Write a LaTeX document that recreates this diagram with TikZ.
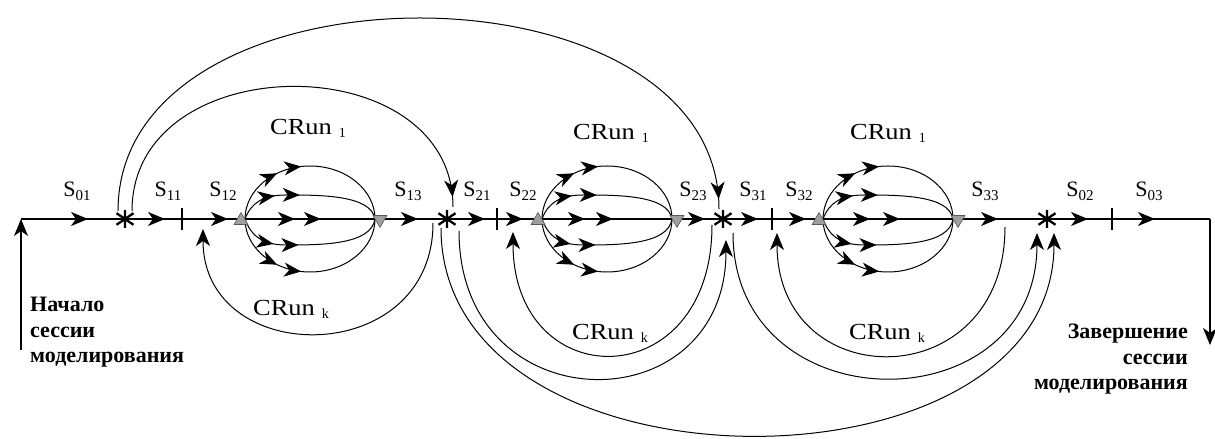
\documentclass[tikz,border=0pt]{standalone}
\usepackage{fontspec}
\usepackage{graphicx}
\setmainfont{Liberation Serif}
\usetikzlibrary{arrows.meta,decorations.markings,shapes.geometric}
\newcommand{\Slab}[1]{S\raisebox{-4bp}{\fontsize{15bp}{15bp}\selectfont #1}}
\newcommand{\CRlab}[1]{\scalebox{1.15}[1]{\fontsize{23bp}{24bp}\selectfont CRun}\hspace{7bp}\raisebox{-3bp}{\fontsize{14bp}{14bp}\selectfont #1}}
\newcommand{\RuT}[1]{\scalebox{1.0}[1]{#1}}
\begin{document}
\begin{tikzpicture}[x=1bp,y=-1bp,
  font=\fontsize{22bp}{24bp}\selectfont,
  >={Stealth[length=17bp,width=14bp,inset=5bp]},
  mainline/.style={line width=1.3bp},
  arcline/.style={line width=1bp},
  arrowat/.style={postaction={decorate,decoration={markings,mark=at position #1 with {\arrow{>}}}}},
  uptri/.style={regular polygon,regular polygon sides=3,minimum size=16bp,inner sep=0pt,fill=black!38,draw=black!65,line width=0.6bp},
  dntri/.style={uptri,shape border rotate=180},
  lab/.style={anchor=base,inner sep=0pt},
  rutext/.style={inner sep=0pt,font=\bfseries\fontsize{22bp}{24bp}\selectfont},
  crun/.style={anchor=base west,inner sep=0pt},
  asterisk/.pic={\draw[line width=2.3bp] (0,-9)--(0,9) (-8.5,-5.8)--(8.5,5.8) (-8.5,5.8)--(8.5,-5.8);},
  tickmark/.pic={\draw[line width=1.2bp] (0,-11)--(0,11);},
  eye/.pic={
    \draw[arcline,arrowat=59bp,arrowat=84bp] (4,0) .. controls (4,-29) and (33,-53) .. (69,-53) .. controls (105,-53) and (134,-29) .. (134,0);
    \draw[arcline,arrowat=59bp,arrowat=84bp] (4,0) .. controls (4,29) and (33,53) .. (69,53) .. controls (105,53) and (134,29) .. (134,0);
    \draw[arcline,arrowat=40bp,arrowat=65bp] (4,0) .. controls (10,-16) and (22,-24) .. (45,-24) .. controls (80,-24) and (130,-24) .. (134,0);
    \draw[arcline,arrowat=40bp,arrowat=65bp] (4,0) .. controls (10,17) and (22,26) .. (45,26) .. controls (80,26) and (130,26) .. (134,0);
  }
]
\useasboundingbox (0,0) rectangle (1215,439);

% main line points
\coordinate (L) at (21,219);
\coordinate (Lb) at (21,350);
\coordinate (st1) at (125,219);
\coordinate (tk1) at (182,219);
\coordinate (u1) at (241,219);
\coordinate (d1) at (380,219);
\coordinate (st2) at (447,219);
\coordinate (tk2) at (497,219);
\coordinate (u2) at (538,219);
\coordinate (d2) at (677,219);
\coordinate (st3) at (723,219);
\coordinate (tk3) at (772,219);
\coordinate (u3) at (819,219);
\coordinate (d3) at (958,219);
\coordinate (st4) at (1047,219);
\coordinate (tk4) at (1112,219);
\coordinate (R) at (1210,219);
\coordinate (Rb) at (1210,345);

\draw[mainline,->] (Lb) -- (L);
\draw[mainline,arrowat=67bp] (L) -- (st1);
\draw[mainline,arrowat=40bp] (st1) -- (tk1);
\draw[mainline,arrowat=46bp] (tk1) -- (u1);
\draw[mainline,arrowat=54bp,arrowat=80bp] (u1) -- (d1);
\draw[mainline,arrowat=38bp] (d1) -- (st2);
\draw[mainline,arrowat=38bp] (st2) -- (tk2);
\draw[mainline,arrowat=26bp] (tk2) -- (u2);
\draw[mainline,arrowat=47bp,arrowat=75bp] (u2) -- (d2);
\draw[mainline,arrowat=28bp] (d2) -- (st3);
\draw[mainline,arrowat=35bp] (st3) -- (tk3);
\draw[mainline,arrowat=34bp] (tk3) -- (u3);
\draw[mainline,arrowat=51bp,arrowat=81bp] (u3) -- (d3);
\draw[mainline,arrowat=40bp] (d3) -- (st4);
\draw[mainline,arrowat=41bp] (st4) -- (tk4);
\draw[mainline,arrowat=43bp] (tk4) -- (R);
\draw[mainline,->] (R) -- (Rb);

% eyes
\pic at (u1) {eye};
\pic at (u2) {eye};
\pic at (u3) {eye};

% big arcs
\coordinate (G1) at (132,211); \coordinate (G2) at (453,207);
\coordinate (H1) at (118,211); \coordinate (H2) at (719,209);
\coordinate (A1) at (433,223); \coordinate (A2) at (203,229);
\coordinate (B1) at (712,225); \coordinate (B2) at (513,232);
\coordinate (C1) at (459,231); \coordinate (C2) at (726,240);
\coordinate (D1) at (441,228); \coordinate (D2) at (1054,233);
\coordinate (E1) at (1005,227); \coordinate (E2) at (777,233);
\coordinate (F1) at (733,233); \coordinate (F2) at (1037,233);

\draw[arcline,arrowat=-10bp] (G1) .. controls +(0,-165) and +(0,-162) .. (G2);
\draw[arcline,arrowat=-10bp] (H1) .. controls +(0,-257) and +(0,-255) .. (H2);
\draw[arcline,->] (A1) .. controls +(0,146) and +(0,140) .. (A2);
\draw[arcline,->] (B1) .. controls +(0,172) and +(0,165) .. (B2);
\draw[arcline,->] (C1) .. controls +(0,194) and +(0,186) .. (C2);
\draw[arcline,->] (D1) .. controls +(0,275) and +(0,270) .. (D2);
\draw[arcline,->] (E1) .. controls +(0,170) and +(0,164) .. (E2);
\draw[arcline,->] (F1) .. controls +(0,193) and +(0,193) .. (F2);

% markers
\node[uptri] (tu1) at (241,220.5) {};
\node[uptri] (tu2) at (538,220.5) {};
\node[uptri] (tu3) at (819,220.5) {};
\node[dntri] (td1) at (380,219.5) {};
\node[dntri] (td2) at (677,219.5) {};
\node[dntri] (td3) at (958,219.5) {};
\pic at (st1) {asterisk};
\pic at (st2) {asterisk};
\pic at (st3) {asterisk};
\pic at (st4) {asterisk};
\pic at (tk1) {tickmark};
\pic at (tk2) {tickmark};
\pic at (tk3) {tickmark};
\pic at (tk4) {tickmark};

% S labels
\node[lab] (s01) at (77,197) {\Slab{01}};
\node[lab] (s11) at (168,197) {\Slab{11}};
\node[lab] (s12) at (223,197) {\Slab{12}};
\node[lab] (s13) at (408,197) {\Slab{13}};
\node[lab] (s21) at (477,197) {\Slab{21}};
\node[lab] (s22) at (523,197) {\Slab{22}};
\node[lab] (s23) at (693,197) {\Slab{23}};
\node[lab] (s31) at (753,197) {\Slab{31}};
\node[lab] (s32) at (799,197) {\Slab{32}};
\node[lab] (s33) at (985,197) {\Slab{33}};
\node[lab] (s02) at (1080,197) {\Slab{02}};
\node[lab] (s03) at (1149,197) {\Slab{03}};

% CRun labels
\node[crun] (cr11) at (270,135) {\CRlab{1}};
\node[crun] (cr21) at (573,140) {\CRlab{1}};
\node[crun] (cr31) at (850,140) {\CRlab{1}};
\node[crun] (cr1k) at (253,316) {\CRlab{k}};
\node[crun] (cr2k) at (572,340) {\CRlab{k}};
\node[crun] (cr3k) at (849,340) {\CRlab{k}};

% texts
\node[rutext,anchor=base west] (n1) at (30,312) {\RuT{Начало}};
\node[rutext,anchor=base west] (n2) at (30,338) {\RuT{сессии}};
\node[rutext,anchor=base west] (n3) at (30,363) {\RuT{моделирования}};
\node[rutext,anchor=base east] (z1) at (1188,339) {\RuT{Завершение}};
\node[rutext,anchor=base east] (z2) at (1188,365) {\RuT{сессии}};
\node[rutext,anchor=base east] (z3) at (1188,390) {\RuT{моделирования}};
\end{tikzpicture}
\end{document}
